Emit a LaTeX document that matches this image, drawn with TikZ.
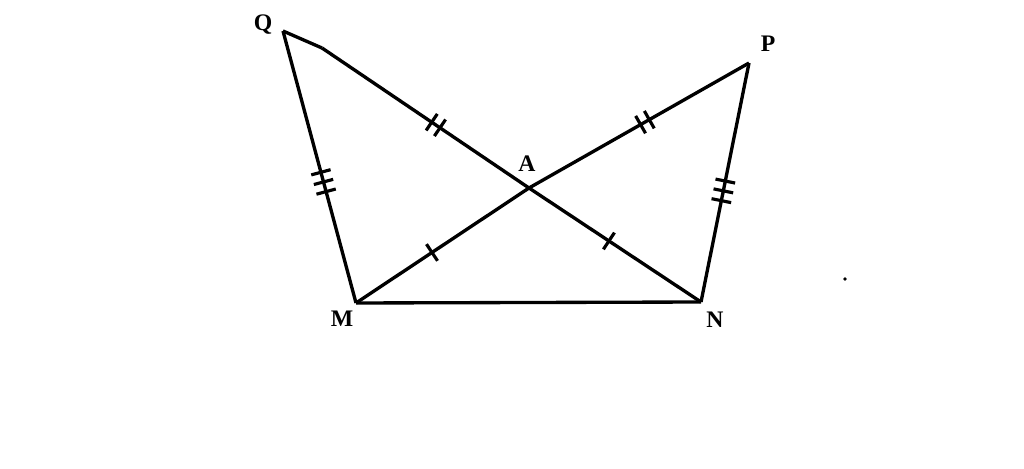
\documentclass[tikz,border=0pt]{standalone}
\usepackage{fontspec}
\setmainfont{Liberation Serif}
\usetikzlibrary{decorations.markings}

\tikzset{
  ticks/.style 2 args={postaction={decorate,decoration={markings,
    mark=at position #1 with {
      \foreach \t in {1,...,#2} {
        \draw[line width=1.8pt] ({(\t-(#2+1)/2)*10},-10)--({(\t-(#2+1)/2)*10},10);
      }
    }}}},
  lbl/.style={font=\fontsize{13.5}{15}\selectfont\bfseries, inner sep=0pt}
}

\begin{document}
\begin{tikzpicture}[x=0.02cm, y=-0.02cm, line width=1.9pt, line join=round]
  \useasboundingbox (0,0) rectangle (1024,469);

  \coordinate (q) at (283,31);
  \coordinate (k) at (322,48);
  \coordinate (p) at (749,63);
  \coordinate (m) at (356,303);
  \coordinate (n) at (701,302);
  \coordinate (a) at (529,188);

  \node[lbl] (lq) at (263,25) {Q};
  \node[lbl] (lp) at (768,44) {P};
  \node[lbl] (lm) at (342,319) {M};
  \node[lbl] (ln) at (715,320) {N};
  \node[lbl] (la) at (527,164) {A};

  \draw[ticks={0.555}{3}] (q) -- (m);
  \draw (q) -- (k);
  \draw[ticks={0.55}{2}] (k) -- (a);
  \draw[ticks={0.465}{1}] (a) -- (n);
  \draw[ticks={0.44}{1}] (m) -- (a);
  \draw[ticks={0.527}{2}] (a) -- (p);
  \draw[ticks={0.535}{3}] (p) -- (n);
  \draw (m) -- (n);

  \fill (845,279) circle (1.8);
\end{tikzpicture}
\end{document}
